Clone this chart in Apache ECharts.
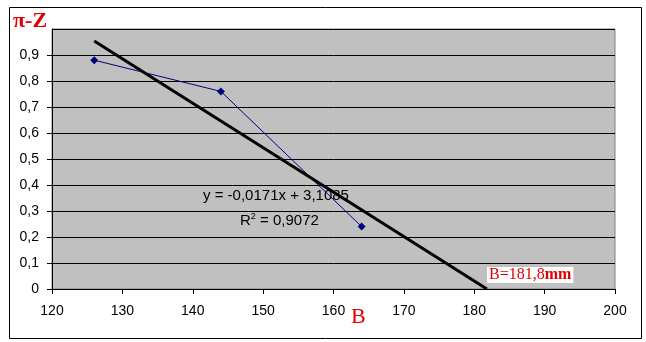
<!DOCTYPE html>
<html>
<head>
<meta charset="utf-8">
<script src="https://cdn.jsdelivr.net/npm/echarts@6/dist/echarts.min.js"></script>
<style>
  html, body { margin: 0; padding: 0; background: #fff; }
  #chart { width: 646px; height: 342px; }
</style>
</head>
<body>
<div id="chart"></div>
<script>
// Measured points: B (mm) against π-Z
const bValues = [126, 144, 164];
const piZValues = [0.88, 0.76, 0.24];

// Linear trend y = slope·x + intercept, extended forward to where it meets zero
const trendSlope = -0.0171;
const trendIntercept = 3.1085;
const trendStartB = 126;
const trendEndB = 181.8;

// Axis ticks
const xTicks = { min: 120, max: 200, step: 10 };
const yTicks = { min: 0, max: 1, step: 0.1 };

const equationText = 'y = -0,0171x + 3,1085';
const rSquaredValue = '0,9072';
const interceptLabel = 'B=181,8';

const comma = v => String(Math.round(v * 10) / 10).replace('.', ',');

const measured = bValues.map((b, i) => [b, piZValues[i]]);
const trendLine = [trendStartB, trendEndB].map(b => [b, Math.max(0, trendSlope * b + trendIntercept)]);

const chart = echarts.init(document.getElementById('chart'), null, { renderer: 'canvas' });

const tickFont = { fontFamily: 'Liberation Sans, Arial, sans-serif', fontSize: 14, color: '#000' };
const serif = '"Liberation Serif", "Times New Roman", serif';
const sans = '"Liberation Sans", Arial, sans-serif';

chart.setOption({
  animation: false,
  backgroundColor: '#fff',
  grid: {
    left: 52, right: 31, top: 29, bottom: 53,
    show: true, backgroundColor: '#C0C0C0', borderColor: '#808080', borderWidth: 1
  },
  xAxis: {
    type: 'value',
    min: xTicks.min, max: xTicks.max, interval: xTicks.step,
    axisLine: { show: true, onZero: false, lineStyle: { color: '#000', width: 1 } },
    axisTick: { show: true, length: 5, lineStyle: { color: '#000' } },
    splitLine: { show: false },
    axisLabel: Object.assign({ margin: 15 }, tickFont)
  },
  yAxis: {
    type: 'value',
    min: yTicks.min, max: yTicks.max, interval: yTicks.step,
    axisLine: { show: true, onZero: false, lineStyle: { color: '#000', width: 1 } },
    axisTick: { show: true, length: 5, lineStyle: { color: '#000' } },
    splitLine: { show: true, lineStyle: { color: '#000', width: 1 } },
    axisLabel: Object.assign({ margin: 13, showMaxLabel: false, formatter: comma }, tickFont)
  },
  series: [
    {
      type: 'line',
      data: measured,
      symbol: 'diamond',
      symbolSize: 8,
      lineStyle: { color: '#000080', width: 1 },
      itemStyle: { color: '#000080' },
      z: 3
    },
    {
      type: 'line',
      data: trendLine,
      symbol: 'none',
      lineStyle: { color: '#000', width: 3 },
      z: 4
    }
  ],
  graphic: [
    {
      type: 'rect', left: 7, top: 5, silent: true,
      shape: { width: 632, height: 331 },
      style: { fill: 'none', stroke: '#000', lineWidth: 1 }
    },
    {
      type: 'text', left: 13, top: 10,
      style: { text: 'π-Z', fill: '#E00000', font: 'bold 22px ' + serif }
    },
    {
      type: 'text', left: 351, top: 306,
      style: { text: 'B', fill: '#E00000', font: '22px ' + serif }
    },
    {
      type: 'text', left: 203, top: 188,
      style: { text: equationText, fill: '#000', font: '15px ' + sans }
    },
    {
      type: 'text', left: 240, top: 212,
      style: {
        text: '{r|R}{s|2}{r| = ' + rSquaredValue + '}',
        rich: {
          r: { fill: '#000', font: '15px ' + sans, verticalAlign: 'bottom' },
          s: { fill: '#000', font: '9px ' + sans, verticalAlign: 'top', padding: [0, 0, 7, 0] }
        }
      }
    },
    {
      type: 'text', left: 487, top: 267,
      style: {
        text: '{a|' + interceptLabel + '}{b|mm}',
        backgroundColor: '#fff',
        padding: [0, 2, 0, 2],
        rich: {
          a: { fill: '#E00000', font: '16px ' + serif, lineHeight: 16 },
          b: { fill: '#E00000', font: 'bold 16px ' + serif, lineHeight: 16 }
        }
      }
    }
  ]
});
</script>
</body>
</html>
